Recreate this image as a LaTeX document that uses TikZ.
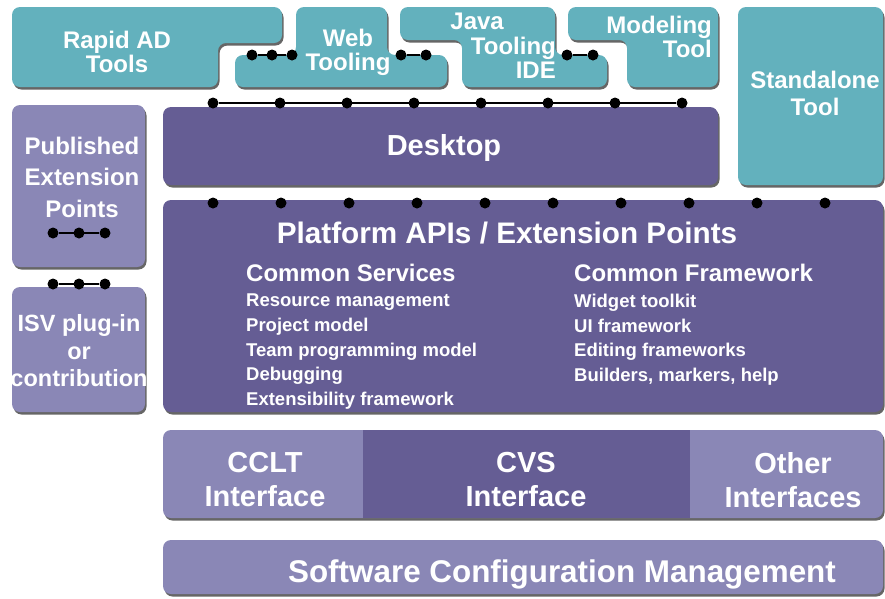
\documentclass[tikz,border=0pt]{standalone}
\usepackage{fontspec}
\setmainfont{Liberation Sans}
\usetikzlibrary{shadows,positioning}

\definecolor{verdeazul}{RGB}{99,177,189}
\definecolor{lila}{RGB}{101,93,148}
\definecolor{lilaclaro}{RGB}{138,135,182}

\begin{document}
\begin{tikzpicture}[x=1pt, y=-1pt,
        pieza/.style={fill=verdeazul, rounded corners=8pt,
            drop shadow={shadow xshift=1.5pt, shadow yshift=-2.5pt, fill=black!75, opacity=.8}},
        capa/.style={pieza, fill=lila},
        capaclara/.style={pieza, fill=lilaclaro},
        rotulo/.style={text=white, inner sep=0pt, align=center, font=\bfseries\fontsize{24}{24.5}\selectfont},
        rotulog/.style={text=white, inner sep=0pt, align=center, font=\bfseries\fontsize{29}{34}\selectfont},
        lista/.style={text=white, inner sep=0pt, align=left, anchor=north west, font=\bfseries\fontsize{18.5}{24.6}\selectfont},
        pin/.style={circle, fill=black, inner sep=0pt, minimum size=11pt},
        cable/.style={line width=1.4pt}]
        \useasboundingbox (0,0) rectangle (885,598);
        \clip (0,0) rectangle (885,598);

        \path[pieza] (12,7) -- (282,7) -- (282,43) -- (218,43) -- (218,87) -- (12,87) -- cycle;
        \path[pieza] (296,7) -- (387,7) -- (387,55) -- (447,55) -- (447,87) -- (235,87) -- (235,55) -- (296,55) -- cycle;
        \path[pieza] (400,7) -- (555,7) -- (555,55) -- (607,55) -- (607,87) -- (462,87) -- (462,40) -- (400,40) -- cycle;
        \path[pieza] (568,7) -- (718,7) -- (718,87) -- (627,87) -- (627,40) -- (568,40) -- cycle;
        \path[pieza] (738,7) rectangle (883,185);
        \path[capa] (163,107) rectangle (718,185);
        \path[capaclara] (12,105) rectangle (145,267);
        \path[capaclara] (12,287) rectangle (145,412);
        \path[capa] (163,200) rectangle (883,412);
        \path[capaclara] (163,430) rectangle (883,518);
        \fill[lila] (363,430) rectangle (690,518);
        \path[capaclara] (163,540) rectangle (883,594);

        \node[rotulo] (rapid) at (117,52) {Rapid AD\\Tools};
        \node[rotulo, text depth=0pt] (web) at (348,50) {Web\\Tooling};
        \node[rotulo, align=right, anchor=east] (java) at (556,46) {Java\hspace*{52pt}\\Tooling\\IDE};
        \node[rotulo, align=right, anchor=east] (modeling) at (712,37) {Modeling\\Tool};
        \node[rotulo, font=\bfseries\fontsize{24}{27}\selectfont] (standalone) at (815,93) {Standalone\\Tool};
        \node[rotulog] (desktop) at (444,148) {Desktop};
        \node[rotulo, font=\bfseries\fontsize{24}{31.5}\selectfont] (published) at (82,177) {Published\\Extension\\Points};
        \node[rotulo, font=\bfseries\fontsize{23.5}{27.5}\selectfont] (isv) at (79,351) {ISV plug-in\\or\\contribution};
        \node[rotulog, font=\bfseries\fontsize{29.7}{34}\selectfont] (platform) at (507,233) {Platform APIs / Extension Points};
        \node[rotulo, anchor=west] (servicios) at (246,273) {Common Services};
        \node[lista] (servlista) at (246,294) {Resource management\\Project model\\Team programming model\\Debugging\\Extensibility framework};
        \node[rotulo, anchor=west] (marco) at (574,273) {Common Framework};
        \node[lista] (marcolista) at (574,294) {Widget toolkit\\UI framework\\Editing frameworks\\Builders, markers, help};
        \node[rotulog] (cclt) at (265,480) {CCLT\\Interface};
        \node[rotulog] (cvs) at (526,480) {CVS\\Interface};
        \node[rotulog] (otras) at (793,480) {Other\\Interfaces};
        \node[rotulog, font=\bfseries\fontsize{31.4}{34}\selectfont] (scm) at (562,574) {Software Configuration Management};

        \foreach \x [count=\i] in {252,272,292} \node[pin] (wa\i) at (\x,55) {};
        \draw[cable] (wa1) -- (wa3);
        \foreach \x [count=\i] in {401,426} \node[pin] (wb\i) at (\x,55) {};
        \draw[cable] (wb1) -- (wb2);
        \foreach \x [count=\i] in {567,593} \node[pin] (jv\i) at (\x,55) {};
        \draw[cable] (jv1) -- (jv2);
        \foreach \i in {0,...,7} \node[pin] (d\i) at (213+67*\i,103) {};
        \draw[cable] (d0) -- (d7);
        \foreach \i in {0,...,9} \node[pin] (p\i) at (213+68*\i,203) {};
        \foreach \x [count=\i] in {53,79,105} \node[pin] (pe\i) at (\x,233) {};
        \draw[cable] (pe1) -- (pe3);
        \foreach \x [count=\i] in {53,79,105} \node[pin] (is\i) at (\x,284) {};
        \draw[cable] (is1) -- (is3);
    \end{tikzpicture}
\end{document}
